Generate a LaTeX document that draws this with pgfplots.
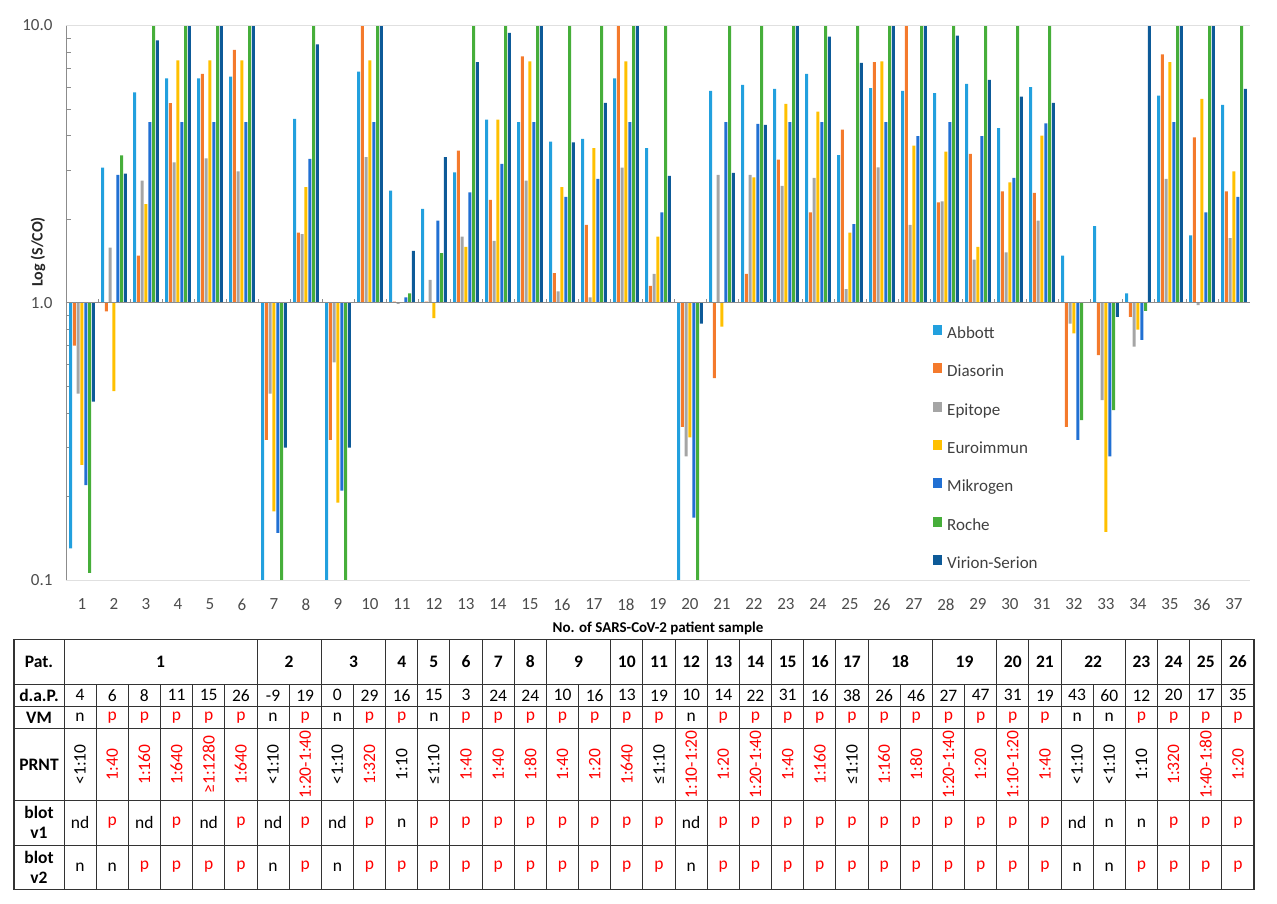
\documentclass[border=0pt]{standalone}
\usepackage{pgfplots}
\pgfplotsset{compat=1.18}
\usepackage{pgfplotstable}
\usepackage{fontspec}
\setmainfont{Carlito}
\definecolor{cA}{HTML}{22A0DE}
\definecolor{cD}{HTML}{F47A2C}
\definecolor{cE}{HTML}{A5A5A5}
\definecolor{cU}{HTML}{FFC000}
\definecolor{cM}{HTML}{2170D3}
\definecolor{cR}{HTML}{46AE3A}
\definecolor{cV}{HTML}{0D5A98}
\newcommand\fs{\fontsize{17}{20}\selectfont}
\newcommand\ts{\fontsize{17.5}{20}\selectfont}
\newcommand\pn[1]{\if#1p\textcolor{red}{p}\else\if#1d{nd}\else{n}\fi\fi}

\pgfplotstableread{
x A D E U M R V
1 0.13 0.70 0.47 0.26 0.22 0.106 0.44
2 3.07 0.93 1.58 0.48 2.89 3.4 2.92
3 5.74 1.48 2.76 2.27 4.48 10 8.83
4 6.45 5.25 3.21 7.48 4.48 10 10
5 6.45 6.69 3.32 7.48 4.48 10 10
6 6.54 8.17 2.98 7.48 4.48 10 10
7 0.1 0.32 0.47 0.177 0.148 0.1 0.30
8 4.6 1.79 1.77 2.61 3.30 10 8.54
9 0.1 0.32 0.61 0.19 0.21 0.1 0.30
10 6.82 10 3.35 7.48 4.48 10 10
11 2.54 1.01 0.99 1.0 1.045 1.08 1.54
12 2.18 1.01 1.21 0.88 1.98 1.51 3.35
13 2.95 3.54 1.73 1.59 2.5 10 7.37
14 4.58 2.35 1.67 4.58 3.17 10 9.4
15 4.48 7.74 2.76 7.43 4.48 10 10
16 3.81 1.28 1.10 2.61 2.41 10 3.79
17 3.9 1.91 1.045 3.61 2.8 10 5.26
18 6.45 10 3.07 7.43 4.48 10 10
19 3.61 1.15 1.27 1.73 2.12 10 2.87
20 0.1 0.357 0.279 0.327 0.168 0.1 0.84
21 5.81 0.535 2.89 0.82 4.48 10 2.94
22 6.11 1.27 2.89 2.83 4.42 10 4.38
23 5.91 3.28 2.64 5.22 4.48 10 10
24 6.69 2.12 2.82 4.89 4.48 10 9.12
25 3.41 4.21 1.12 1.79 1.92 10 7.33
26 5.94 7.37 3.08 7.43 4.48 10 10
27 5.81 10 1.91 3.69 3.99 10 10
28 5.7 2.3 2.32 3.51 4.48 10 9.2
29 6.16 3.44 1.43 1.59 3.99 10 6.37
30 4.26 2.52 1.52 2.72 2.82 10 5.54
31 5.99 2.49 1.98 4.01 4.44 10 5.26
32 1.48 0.357 0.84 0.775 0.32 0.377 1.0
33 1.89 0.647 0.445 0.149 0.279 0.41 0.89
34 1.08 0.89 0.695 0.80 0.735 0.935 10
35 5.59 7.86 2.8 7.37 4.48 10 10
36 1.75 3.95 0.98 5.44 2.12 10 10
37 5.17 2.52 1.71 2.98 2.41 10 5.91
}\data

\begin{document}
\begin{tikzpicture}[x=1pt,y=1pt]
\useasboundingbox (0,0) rectangle (1277,904);
\begin{axis}[
  at={(66pt,324pt)}, anchor=south west,
  width=1184pt, height=554.5pt, scale only axis,
  xmin=0.5, xmax=37.5, ymin=0.1, ymax=10, ymode=log,
  ybar=0.78pt, bar width=3pt,
  separate axis lines,
  axis x line*=bottom, axis y line*=left,
  x axis line style={draw=black!12, line width=0.8pt},
  y axis line style={draw=black!45, line width=0.8pt},
  xtick={1,...,37}, xtick style={draw=none},
  ytick={0.1,1,10}, yticklabels={0.1,1.0,10.0},
  minor ytick={0.2,0.3,0.4,0.5,0.6,0.7,0.8,0.9,2,3,4,5,6,7,8,9},
  y tick style={draw=black!45, line width=0.8pt},
  major tick length=5pt, minor tick length=5pt,
  tick label style={font=\fs, text=black!70},
  /pgf/number format/assume math mode=true,
  xticklabel style={yshift=-10pt},
  yticklabel style={xshift=-10pt},
  legend cell align=left,
  legend image code/.code={\fill[#1] (0pt,-0.5pt) rectangle (9pt,9.5pt);},
  legend style={draw=none, fill=none, at={(0.7323,0.46)}, anchor=north west,
    inner sep=0pt, row sep=20.8pt, font=\fs, text=black!75,
    nodes={inner sep=0pt, text height=12pt, text depth=4pt},
    /tikz/every odd column/.append style={column sep=5pt}},
]
\addplot[fill=cA, draw=none] table[x=x,y=A]{\data};
\addplot[fill=cD, draw=none] table[x=x,y=D]{\data};
\addplot[fill=cE, draw=none] table[x=x,y=E]{\data};
\addplot[fill=cU, draw=none] table[x=x,y=U]{\data};
\addplot[fill=cM, draw=none] table[x=x,y=M]{\data};
\addplot[fill=cR, draw=none] table[x=x,y=R]{\data};
\addplot[fill=cV, draw=none] table[x=x,y=V]{\data};
\legend{Abbott,Diasorin,Epitope,Euroimmun,Mikrogen,Roche,Virion-Serion}
\draw[black!12, line width=0.8pt] (axis cs:0.5,10) -- (axis cs:37.5,10);
\draw[black!45, line width=0.8pt] (axis cs:0.5,1) -- (axis cs:37.5,1);
\pgfplotsinvokeforeach{1.5,2.5,...,36.5}{%
  \draw[black!45, line width=0.8pt] (axis cs:#1,1) -- ([yshift=4pt]axis cs:#1,1);}
\end{axis}
% axis titles
\node[font=\fontsize{16}{18}\selectfont\bfseries, text=black!85, rotate=90] at (38,652) {Log (S/CO)};
\node[font=\fontsize{15}{18}\selectfont\bfseries] at (658,276) {No. of SARS-CoV-2 patient sample};
% table grid
\begin{scope}[line width=0.9pt, draw=black!80]
\foreach \yy in {220,197.3,175.7,103.3,59} \draw (14,\yy) -- (1254,\yy);
\draw (64,14.7) -- (64,264.7);
\foreach \k in {1,...,36} \draw ({64+\k*32.162},14.7) -- ({64+\k*32.162},220);
\foreach \k in {6,8,10,11,12,13,14,15,17,18,19,20,21,22,23,24,25,27,29,30,31,33,34,35,36}
  \draw ({64+\k*32.162},220) -- ({64+\k*32.162},264.7);
\draw[line width=1.2pt] (14,14.7) rectangle (1254,264.7);
\end{scope}
% header column
\node[font=\ts\bfseries] at (39,242.35) {Pat.};
\node[font=\ts\bfseries] at (39,208.65) {d.a.P.};
\node[font=\ts\bfseries] at (39,186.5) {VM};
\node[font=\ts\bfseries] at (39,139.5) {PRNT};
\node[font=\ts\bfseries, align=center] at (39,81.15) {blot\\v1};
\node[font=\ts\bfseries, align=center] at (39,36.85) {blot\\v2};
% patients
\foreach \lab/\a/\b in {1/1/6,2/7/8,3/9/10,4/11/11,5/12/12,6/13/13,7/14/14,8/15/15,9/16/17,10/18/18,11/19/19,12/20/20,13/21/21,14/22/22,15/23/23,16/24/24,17/25/25,18/26/27,19/28/29,20/30/30,21/31/31,22/32/33,23/34/34,24/35/35,25/36/36,26/37/37}
  \node[font=\ts\bfseries] at ({64+(\a-1+\b)/2*32.162},242.35) {\lab};
% d.a.P.
\foreach \v [count=\i] in {4,6,8,11,15,26,-9,19,0,29,16,15,3,24,24,10,16,13,19,10,14,22,31,16,38,26,46,27,47,31,19,43,60,12,20,17,35}
  \node[font=\ts] at ({64+(\i-0.5)*32.162},208.65) {\v};
% VM
\foreach \v [count=\i] in {n,p,p,p,p,p,n,p,n,p,p,n,p,p,p,p,p,p,p,n,p,p,p,p,p,p,p,p,p,p,p,n,n,p,p,p,p}
  \node[font=\ts] at ({64+(\i-0.5)*32.162},186.5) {\pn\v};
% PRNT
\foreach \t/\c [count=\i] in {<1:10/black,1:40/red,1:160/red,1:640/red,≥1:1280/red,1:640/red,<1:10/black,1:20-1:40/red,<1:10/black,1:320/red,1:10/black,≤1:10/black,1:40/red,1:40/red,1:80/red,1:40/red,1:20/red,1:640/red,≤1:10/black,1:10-1:20/red,1:20/red,1:20-1:40/red,1:40/red,1:160/red,≤1:10/black,1:160/red,1:80/red,1:20-1:40/red,1:20/red,1:10-1:20/red,1:40/red,<1:10/black,<1:10/black,1:10/black,1:320/red,1:40-1:80/red,1:20/red}
  \node[font=\ts, rotate=90, text=\c] at ({64+(\i-0.5)*32.162},139.5) {\t};
% blot v1
\foreach \v [count=\i] in {d,p,d,p,d,p,d,p,d,p,n,p,p,p,p,p,p,p,p,d,p,p,p,p,p,p,p,p,p,p,p,d,n,n,p,p,p}
  \node[font=\ts] at ({64+(\i-0.5)*32.162},81.15) {\pn\v};
% blot v2
\foreach \v [count=\i] in {n,n,p,p,p,p,n,p,n,p,p,p,p,p,p,p,p,p,p,n,p,p,p,p,p,p,p,p,p,p,p,n,n,p,p,p,p}
  \node[font=\ts] at ({64+(\i-0.5)*32.162},36.85) {\pn\v};
\end{tikzpicture}
\end{document}
